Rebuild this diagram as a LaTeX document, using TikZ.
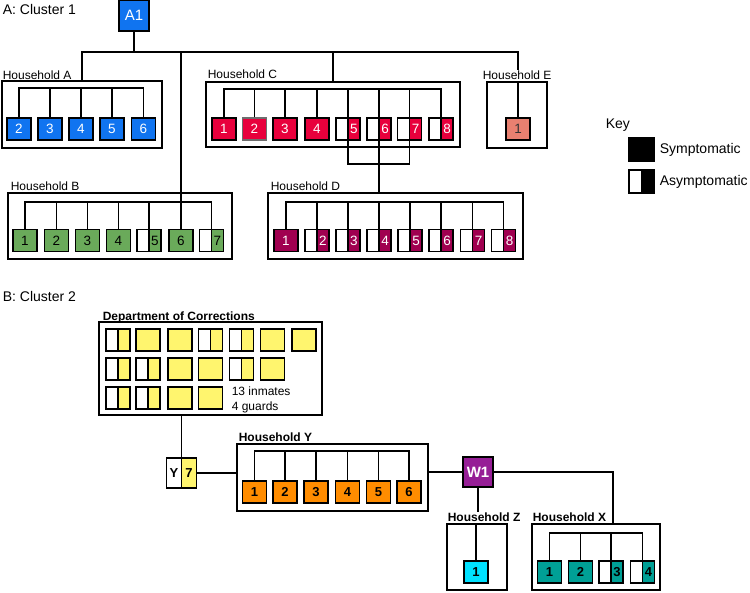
\documentclass[tikz,border=0pt]{standalone}
\usepackage{fontspec}
\setmainfont{Liberation Sans}
\definecolor{cblue}{RGB}{16,116,240}
\definecolor{cred}{RGB}{232,0,60}
\definecolor{cmar}{RGB}{160,0,80}
\definecolor{csal}{RGB}{232,128,112}
\definecolor{cgrn}{RGB}{106,170,90}
\definecolor{cyel}{RGB}{255,245,110}
\definecolor{corg}{RGB}{255,140,0}
\definecolor{cpur}{RGB}{150,30,150}
\definecolor{ccya}{RGB}{0,225,255}
\definecolor{ctea}{RGB}{0,160,150}
\definecolor{cgray}{RGB}{110,110,110}
\newcommand{\AN}[6]{%
  \node[asym=#4] (#1) at (#2,#3) {};
  \node[numf, text=#5] (#1t) at ([xshift=6pt]#1.center) {#6};}
\begin{document}
\begin{tikzpicture}[x=1pt,y=-1pt,line width=1.6pt,
  every node/.style={inner sep=0pt},
  hbox/.style={draw, line width=1.6pt},
  numf/.style={font=\fontsize{13.5}{14}\selectfont},
  bnumf/.style={font=\bfseries\fontsize{13}{14}\selectfont},
  nd/.style={draw, line width=1.4pt, minimum width=24pt, minimum height=22pt, numf},
  sym/.style={nd, fill=#1},
  asym/.style={nd, path picture={\fill[#1] (path picture bounding box.north) rectangle (path picture bounding box.south east); \draw[line width=1.4pt] (path picture bounding box.north) -- (path picture bounding box.south);}},
  lab/.style={anchor=base west, font=\fontsize{12}{14}\selectfont},
  blab/.style={anchor=base west, font=\bfseries\fontsize{12}{14}\selectfont},
  ttl/.style={anchor=base west, font=\fontsize{14}{16}\selectfont},
]
\useasboundingbox (0,0) rectangle (750,592);

% ---------------- Cluster 1 ----------------
\node[ttl] (t1) at (2,14) {A: Cluster 1};
\node[sym=cblue, minimum width=30pt, minimum height=31pt, text=white, font=\fontsize{15}{15}\selectfont] (a1) at (134,15.5) {A1};

% Household A
\node[hbox, minimum width=160pt, minimum height=67pt] (hA) at (82,114.5) {};
\node[lab] (hAl) at (2,79) {Household A};
\foreach \n/\x in {2/19,3/50,4/81,5/112,6/143.5}
  \node[sym=cblue, text=white] (a\n) at (\x,129) {\n};
\coordinate (busA) at (0,88);
\draw (a2) -- (a2|-busA) -- (a6|-busA) -- (a6);
\foreach \n in {a3,a4,a5} \draw (\n) -- (\n|-busA);

% Household C
\node[hbox, minimum width=254pt, minimum height=65pt] (hC) at (333,114.5) {};
\node[lab] (hCl) at (207,78) {Household C};
\node[sym=cred, text=white] (c1) at (224,129) {1};
\node[sym=cred, text=white, draw=cgray] (c2) at (254.5,129) {2};
\node[sym=cred, text=white] (c3) at (285,129) {3};
\node[sym=cred, text=white] (c4) at (317,129) {4};
\AN{c5}{348}{129}{cred}{white}{5}
\AN{c6}{379}{129}{cred}{white}{6}
\AN{c7}{409.5}{129}{cred}{white}{7}
\AN{c8}{441}{129}{cred}{white}{8}
\coordinate (busC) at (0,89);
\draw (c1) -- (c1|-busC) -- (c8|-busC) -- (c8);
\foreach \n in {c2,c3,c4,c5,c6,c7} \draw (\n) -- (\n|-busC);

% Household E
\node[hbox, minimum width=60pt, minimum height=66pt] (hE) at (517,115) {};
\node[lab] (hEl) at (482,79) {Household E};
\node[sym=csal, text=black!80] (e1) at (518,129) {1};
\draw (hE.north -| e1) -- (e1);

% Household B
\node[hbox, minimum width=224pt, minimum height=66pt] (hB) at (120,226) {};
\node[lab] (hBl) at (10,190) {Household B};
\node[sym=cgrn] (b1) at (25,240.5) {1};
\node[sym=cgrn] (b2) at (56.5,240.5) {2};
\node[sym=cgrn] (b3) at (87.5,240.5) {3};
\node[sym=cgrn] (b4) at (118.5,240.5) {4};
\AN{b5}{149}{240.5}{cgrn}{black}{5}
\node[sym=cgrn] (b6) at (181,240.5) {6};
\AN{b7}{211.5}{240.5}{cgrn}{black}{7}
\coordinate (busB) at (0,202);
\draw (b1) -- (b1|-busB) -- (b7|-busB) -- (b7);
\foreach \n in {b2,b3,b4,b5} \draw (\n) -- (\n|-busB);

% Household D
\node[hbox, minimum width=255pt, minimum height=66pt] (hD) at (395.5,226) {};
\node[lab] (hDl) at (270,190) {Household D};
\node[sym=cmar, text=white] (d1) at (286,240.5) {1};
\AN{d2}{317}{240.5}{cmar}{white}{2}
\AN{d3}{348}{240.5}{cmar}{white}{3}
\AN{d4}{379}{240.5}{cmar}{white}{4}
\AN{d5}{410}{240.5}{cmar}{white}{5}
\AN{d6}{441}{240.5}{cmar}{white}{6}
\AN{d7}{472.5}{240.5}{cmar}{white}{7}
\AN{d8}{503.5}{240.5}{cmar}{white}{8}
\coordinate (busD) at (0,202);
\draw (d1) -- (d1|-busD) -- (d8|-busD) -- (d8);
\foreach \n in {d2,d3,d4,d5,d6,d7} \draw (\n) -- (\n|-busD);

% main bus from A1
\coordinate (bus) at (0,52);
\draw (a1) -- (a1|-bus);
\draw (hA.north) -- (hA.north|-bus) -- (e1|-bus) -- (e1|-hEl.north);
\draw (b6) -- (b6|-bus);
\draw (hC.north) -- (hC.north|-bus);
% C to D
\coordinate (cd) at (0,164);
\draw (c5) -- (c5|-cd) -- (c7|-cd) -- (c7);
\draw (c6) -- (c6|-hD.north);

% Key
\node[ttl] (key) at (605,128) {Key};
\node[sym=black, minimum width=25pt, minimum height=23pt] (ks) at (641.5,149.5) {};
\node[asym=black, minimum width=25pt, minimum height=23pt] (ka) at (641.5,181.5) {};
\node[anchor=west, font=\fontsize{14}{16}\selectfont] (ksl) at (659,150) {Symptomatic};
\node[anchor=west, font=\fontsize{14}{16}\selectfont] (kal) at (659,181.5) {Asymptomatic};

% ---------------- Cluster 2 ----------------
\node[ttl] (t2) at (2,301) {B: Cluster 2};

% Department of Corrections
\node[hbox, minimum width=223pt, minimum height=93pt] (dept) at (210.5,368.5) {};
\node[blab] (deptl) at (102,320) {Department of Corrections};
\foreach \c/\x in {1/118,2/148,3/180,4/210.5,5/241.5,6/272.5,7/304}{
  \coordinate (col\c) at (\x,0);}
\foreach \r/\y in {1/340,2/369,3/398}{\coordinate (row\r) at (0,\y);}
\foreach \r/\c in {1/1,1/4,1/5,2/1,2/2,2/5,3/1,3/2}
  \node[asym=cyel] (p\r\c) at (col\c|-row\r) {};
\foreach \r/\c in {1/2,1/3,1/6,1/7,2/3,2/4,2/6,3/3,3/4}
  \node[sym=cyel] (p\r\c) at (col\c|-row\r) {};
\node[lab] (inm) at (231,395) {13 inmates};
\node[lab] (grd) at (231,410.5) {4 guards};

% Y7
\node[asym=cyel, minimum width=30pt, minimum height=30pt] (y7) at (181.5,473) {};
\node[bnumf] (y7a) at ([xshift=-7.5pt]y7.center) {Y};
\node[bnumf] (y7b) at ([xshift=7.5pt]y7.center) {7};
\draw (dept.south -| y7) -- (y7);

% Household Y
\node[hbox, minimum width=191pt, minimum height=67pt] (hY) at (332.5,477.5) {};
\node[blab] (hYl) at (238,441) {Household Y};
\foreach \n/\x in {1/254.5,2/285,3/316,4/347.5,5/378.5,6/409}
  \node[sym=corg, bnumf] (y\n) at (\x,492) {\n};
\coordinate (busY) at (0,451);
\draw (y1) -- (y1|-busY) -- (y6|-busY) -- (y6);
\foreach \n in {y2,y3,y4,y5} \draw (\n) -- (\n|-busY);
\draw (y7.east) -- (y7.east -| hY.west);

% W1
\node[sym=cpur, minimum width=30pt, minimum height=30pt, text=white, font=\bfseries\fontsize{15}{15}\selectfont] (w1) at (478,472) {W1};
\draw (hY.east |- w1) -- (w1);

% Household Z
\node[hbox, minimum width=60pt, minimum height=66pt] (hZ) at (477,557) {};
\node[blab] (hZl) at (447,521) {Household Z};
\node[sym=ccya, bnumf] (z1) at (476,572) {1};
\draw (hZ.north -| z1) -- (z1);
\draw (w1) -- (w1|-hZl.north);

% Household X
\node[hbox, minimum width=128pt, minimum height=66pt] (hX) at (596,557) {};
\node[blab] (hXl) at (532,521) {Household X};
\node[sym=ctea, bnumf] (x1) at (549.5,572) {1};
\node[sym=ctea, bnumf] (x2) at (580.5,572) {2};
\node[asym=ctea] (x3) at (611,572) {};
\node[bnumf] (x3t) at ([xshift=6pt]x3.center) {3};
\node[asym=ctea] (x4) at (642.5,572) {};
\node[bnumf] (x4t) at ([xshift=6pt]x4.center) {4};
\coordinate (busX) at (0,533);
\draw (x1) -- (x1|-busX) -- (x4|-busX) -- (x4);
\foreach \n in {x2,x3} \draw (\n) -- (\n|-busX);
\coordinate (xin) at (613,524);
\draw (w1) -| (xin);
\end{tikzpicture}
\end{document}
